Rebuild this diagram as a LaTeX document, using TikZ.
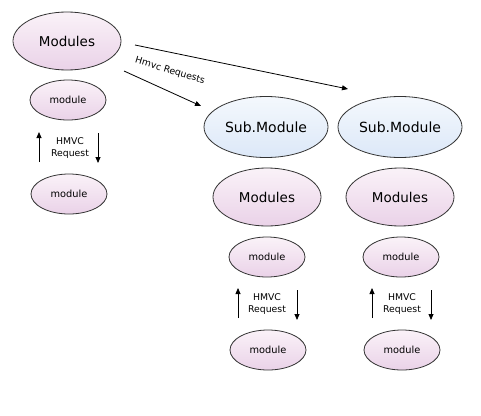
\documentclass[tikz,border=0pt]{standalone}
\usepackage{fontspec}
\setmainfont{DejaVu Sans}
\usetikzlibrary{shapes.geometric,arrows.meta}
\definecolor{pinktop}{HTML}{FAF2F8}
\definecolor{pinkbot}{HTML}{EAD2E8}
\definecolor{bluetop}{HTML}{F4F8FD}
\definecolor{bluebot}{HTML}{DCE8F8}
\definecolor{edge}{HTML}{333333}
\tikzset{
  base/.style={ellipse, draw=edge, line width=0.8pt, inner sep=0pt, text=black},
  bigmod/.style={base, minimum width=108pt, minimum height=58pt, top color=pinktop, bottom color=pinkbot, font=\fontsize{13.5}{15}\selectfont},
  submod/.style={base, minimum width=124pt, minimum height=61pt, top color=bluetop, bottom color=bluebot, font=\fontsize{14}{16}\selectfont},
  smallmod/.style={base, minimum width=76pt, minimum height=40pt, top color=pinktop, bottom color=pinkbot, font=\fontsize{9.8}{11}\selectfont},
  req/.style={align=center, inner sep=0pt, font=\fontsize{9.3}{11.5}\selectfont},
  arr/.style={-{Triangle[length=6pt,width=5pt]}, line width=0.8pt, draw=black}
}
\begin{document}
\begin{tikzpicture}[x=1pt,y=-1pt]
\useasboundingbox (0,0) rectangle (481,415);
% left column
\node[bigmod] (M0) at (67,41) {Modules};
\node[smallmod] (m0a) at (68,100) {module};
\node[smallmod] (m0b) at (69,194) {module};
\node[req] (r0) at (70,148) {HMVC\\Request};
\coordinate (u0s) at (39,162); \coordinate (u0e) at (39,132);
\coordinate (d0s) at (98,133); \coordinate (d0e) at (98,163);
\draw[arr] (u0s) -- (u0e);
\draw[arr] (d0s) -- (d0e);
% sub modules
\node[submod] (S1) at (266,127) {Sub.Module};
\node[submod] (S2) at (400,127) {Sub.Module};
\node[bigmod] (M1) at (267,197) {Modules};
\node[bigmod] (M2) at (400,197) {Modules};
\node[smallmod] (m1a) at (267,257) {module};
\node[smallmod] (m2a) at (401,257) {module};
\node[smallmod] (m1b) at (268,350) {module};
\node[smallmod] (m2b) at (402,350) {module};
\node[req] (r1) at (267,304) {HMVC\\Request};
\node[req] (r2) at (402,304) {HMVC\\Request};
\coordinate (u1s) at (238,318); \coordinate (u1e) at (238,288);
\coordinate (d1s) at (297,290); \coordinate (d1e) at (297,320);
\coordinate (u2s) at (372,318); \coordinate (u2e) at (372,288);
\coordinate (d2s) at (431,290); \coordinate (d2e) at (431,320);
\draw[arr] (u1s) -- (u1e);
\draw[arr] (d1s) -- (d1e);
\draw[arr] (u2s) -- (u2e);
\draw[arr] (d2s) -- (d2e);
% top arrows
\coordinate (a1s) at (135,45); \coordinate (a1e) at (348,89);
\coordinate (a2s) at (124,71); \coordinate (a2e) at (201,106);
\draw[arr] (a1s) -- (a1e);
\draw[arr] (a2s) -- (a2e);
\node[font=\fontsize{9.3}{11}\selectfont, rotate=-17, inner sep=0pt] (hr) at (170,71) {Hmvc Requests};
\end{tikzpicture}
\end{document}
